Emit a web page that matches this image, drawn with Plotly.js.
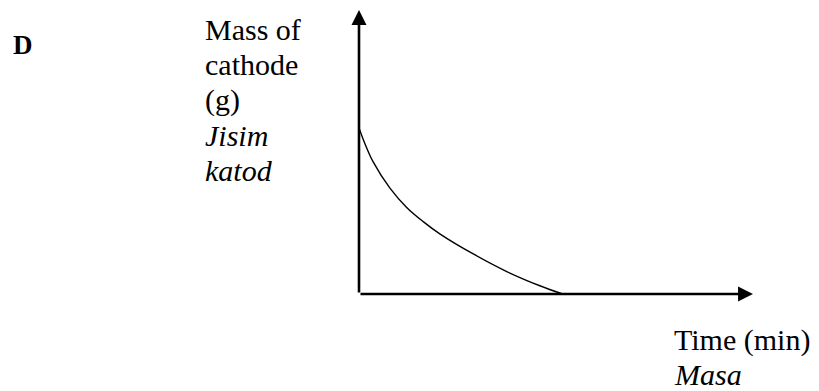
<!DOCTYPE html>
<html>
<head>
<meta charset="utf-8">
<script src="https://cdn.plot.ly/plotly-3.0.1.min.js"></script>
<style>
  html, body { margin: 0; padding: 0; background: #fff; }
  #chart { width: 819px; height: 391px; }
</style>
</head>
<body>
<div id="chart"></div>
<script>
// Decay of cathode mass over time (sketch, arbitrary units)
const timeMin     = [0, 0.12, 0.36, 0.79, 1.21, 1.63, 2.06, 2.9, 3.75, 4.59, 5.17];
const cathodeMass = [5.85, 5.4, 4.65, 3.72, 3.05, 2.55, 2.11, 1.41, 0.79, 0.29, 0];

// Axis extent (arrow tips) in data units
const xMax = 10;
const yMax = 10;

// Text labels
const panelLabel = 'D';
const yLabelLines = ['Mass of', 'cathode', '(g)', '<i>Jisim</i>', '<i>katod</i>'];
const xLabelLines = ['Time (min)', '<i>Masa</i>'];

const W = 819, H = 391;
const M = { l: 359, r: 66, t: 10, b: 97 };
const plotW = W - M.l - M.r, plotH = H - M.t - M.b;
// pixel -> paper helpers for the free-floating labels
const px = v => (v - M.l) / plotW;
const py = v => (H - M.b - v) / plotH;

const serif = "'Liberation Serif', 'Times New Roman', Times, serif";
const labelSize = 30;

const traces = [{
  x: timeMin,
  y: cathodeMass,
  type: 'scatter',
  mode: 'lines',
  line: { color: '#000', width: 1.4, shape: 'spline', smoothing: 1 },
  hoverinfo: 'skip'
}];

const axisArrow = (x, y) => ({
  x: x, y: y, xref: 'x', yref: 'y',
  ax: 0, ay: 0, axref: 'x', ayref: 'y',
  text: '', showarrow: true,
  arrowhead: 2, arrowsize: 1.15, arrowwidth: 2.6, arrowcolor: '#000',
  standoff: 0, startstandoff: 0
});

// one annotation per text line, placed by its baseline (in pixels)
const textLine = (text, left, baseline, size) => ({
  xref: 'paper', yref: 'paper', x: px(left), y: py(baseline - size + 1),
  xanchor: 'left', yanchor: 'top', align: 'left', showarrow: false,
  text: text,
  font: { family: serif, size: size, color: '#000' }
});

const yBaselines = [40, 75, 110, 146, 181];
const xBaselines = [350, 385];

const annotations = [
  axisArrow(xMax, 0),
  axisArrow(0, yMax),
  textLine('<b>' + panelLabel + '</b>', 11, 54, 27)
];
yLabelLines.forEach((t, i) => annotations.push(textLine(t, 203, yBaselines[i], labelSize)));
xLabelLines.forEach((t, i) => annotations.push(textLine(t, 672, xBaselines[i], labelSize)));

const layout = {
  width: W, height: H,
  margin: M,
  paper_bgcolor: '#fff',
  plot_bgcolor: '#fff',
  showlegend: false,
  font: { family: serif, color: '#000' },
  xaxis: { range: [0, xMax], visible: false, fixedrange: true },
  yaxis: { range: [0, yMax], visible: false, fixedrange: true },
  annotations: annotations
};

Plotly.newPlot('chart', traces, layout, { staticPlot: true, displayModeBar: false });
</script>
</body>
</html>
